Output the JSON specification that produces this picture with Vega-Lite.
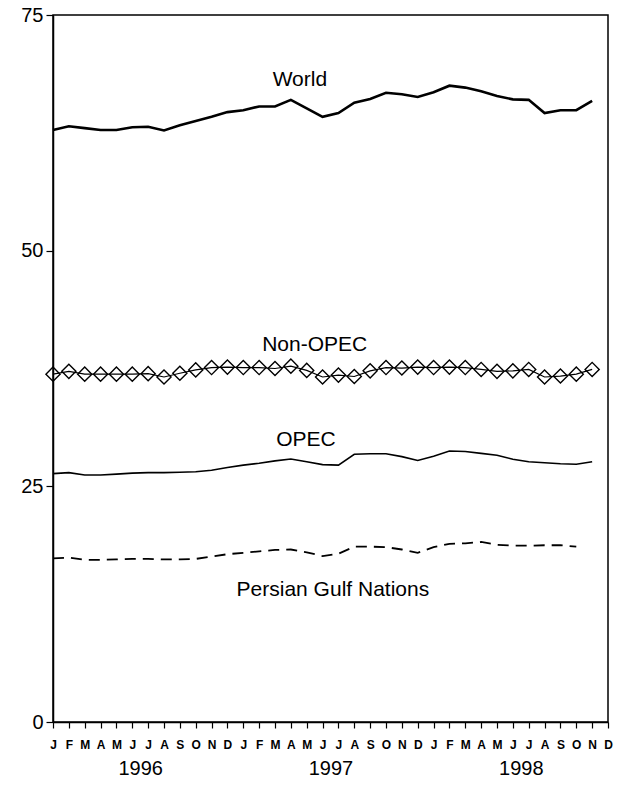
{
  "$schema": "https://vega.github.io/schema/vega-lite/v6.json",
  "width": 555,
  "height": 707,
  "autosize": {"type": "none"},
  "padding": {"left": 53, "top": 15, "right": 10, "bottom": 67},
  "background": "white",
  "config": {
    "view": {"stroke": "black", "strokeWidth": 1.5},
    "font": "Liberation Sans",
    "axis": {"domainColor": "black", "domainWidth": 1.5, "tickColor": "black", "tickWidth": 1.2, "labelColor": "black", "grid": false, "labelFont": "Liberation Sans"},
    "axisY": {"tickSize": 7, "labelPadding": 3, "labelFontSize": 20}
  },
  "datasets": {
    "world": [
      {"t": 0, "v": 62.8}, {"t": 1, "v": 63.2}, {"t": 2, "v": 63.0}, {"t": 3, "v": 62.8}, {"t": 4, "v": 62.8}, {"t": 5, "v": 63.1},
      {"t": 6, "v": 63.15}, {"t": 7, "v": 62.75}, {"t": 8, "v": 63.3}, {"t": 9, "v": 63.75}, {"t": 10, "v": 64.2}, {"t": 11, "v": 64.7},
      {"t": 12, "v": 64.9}, {"t": 13, "v": 65.3}, {"t": 14, "v": 65.3}, {"t": 15, "v": 66.0}, {"t": 16, "v": 65.1}, {"t": 17, "v": 64.2},
      {"t": 18, "v": 64.6}, {"t": 19, "v": 65.7}, {"t": 20, "v": 66.1}, {"t": 21, "v": 66.75}, {"t": 22, "v": 66.6}, {"t": 23, "v": 66.3},
      {"t": 24, "v": 66.8}, {"t": 25, "v": 67.5}, {"t": 26, "v": 67.3}, {"t": 27, "v": 66.9}, {"t": 28, "v": 66.4}, {"t": 29, "v": 66.05},
      {"t": 30, "v": 66.0}, {"t": 31, "v": 64.6}, {"t": 32, "v": 64.9}, {"t": 33, "v": 64.9}, {"t": 34, "v": 65.9}
    ],
    "nonopec": [
      {"t": 0, "v": 36.9}, {"t": 1, "v": 37.2}, {"t": 2, "v": 36.9}, {"t": 3, "v": 36.9}, {"t": 4, "v": 36.9}, {"t": 5, "v": 36.9},
      {"t": 6, "v": 36.95}, {"t": 7, "v": 36.6}, {"t": 8, "v": 37.0}, {"t": 9, "v": 37.35}, {"t": 10, "v": 37.6}, {"t": 11, "v": 37.65},
      {"t": 12, "v": 37.6}, {"t": 13, "v": 37.6}, {"t": 14, "v": 37.5}, {"t": 15, "v": 37.75}, {"t": 16, "v": 37.3}, {"t": 17, "v": 36.6},
      {"t": 18, "v": 36.8}, {"t": 19, "v": 36.65}, {"t": 20, "v": 37.25}, {"t": 21, "v": 37.6}, {"t": 22, "v": 37.55}, {"t": 23, "v": 37.65},
      {"t": 24, "v": 37.6}, {"t": 25, "v": 37.65}, {"t": 26, "v": 37.6}, {"t": 27, "v": 37.4}, {"t": 28, "v": 37.2}, {"t": 29, "v": 37.25},
      {"t": 30, "v": 37.4}, {"t": 31, "v": 36.6}, {"t": 32, "v": 36.7}, {"t": 33, "v": 36.9}, {"t": 34, "v": 37.4}
    ],
    "opec": [
      {"t": 0, "v": 26.35}, {"t": 1, "v": 26.45}, {"t": 2, "v": 26.2}, {"t": 3, "v": 26.2}, {"t": 4, "v": 26.3}, {"t": 5, "v": 26.4},
      {"t": 6, "v": 26.45}, {"t": 7, "v": 26.45}, {"t": 8, "v": 26.5}, {"t": 9, "v": 26.55}, {"t": 10, "v": 26.7}, {"t": 11, "v": 27.0},
      {"t": 12, "v": 27.25}, {"t": 13, "v": 27.45}, {"t": 14, "v": 27.7}, {"t": 15, "v": 27.9}, {"t": 16, "v": 27.6}, {"t": 17, "v": 27.3},
      {"t": 18, "v": 27.25}, {"t": 19, "v": 28.4}, {"t": 20, "v": 28.46}, {"t": 21, "v": 28.46}, {"t": 22, "v": 28.15}, {"t": 23, "v": 27.75},
      {"t": 24, "v": 28.2}, {"t": 25, "v": 28.75}, {"t": 26, "v": 28.7}, {"t": 27, "v": 28.5}, {"t": 28, "v": 28.3}, {"t": 29, "v": 27.87},
      {"t": 30, "v": 27.6}, {"t": 31, "v": 27.5}, {"t": 32, "v": 27.4}, {"t": 33, "v": 27.34}, {"t": 34, "v": 27.6}
    ],
    "gulf": [
      {"t": 0, "v": 17.35}, {"t": 1, "v": 17.45}, {"t": 2, "v": 17.2}, {"t": 3, "v": 17.2}, {"t": 4, "v": 17.25}, {"t": 5, "v": 17.3},
      {"t": 6, "v": 17.3}, {"t": 7, "v": 17.25}, {"t": 8, "v": 17.25}, {"t": 9, "v": 17.3}, {"t": 10, "v": 17.55}, {"t": 11, "v": 17.8},
      {"t": 12, "v": 17.95}, {"t": 13, "v": 18.1}, {"t": 14, "v": 18.25}, {"t": 15, "v": 18.3}, {"t": 16, "v": 18.0}, {"t": 17, "v": 17.6},
      {"t": 18, "v": 17.85}, {"t": 19, "v": 18.6}, {"t": 20, "v": 18.6}, {"t": 21, "v": 18.55}, {"t": 22, "v": 18.3}, {"t": 23, "v": 17.95},
      {"t": 24, "v": 18.55}, {"t": 25, "v": 18.9}, {"t": 26, "v": 18.95}, {"t": 27, "v": 19.1}, {"t": 28, "v": 18.8}, {"t": 29, "v": 18.7},
      {"t": 30, "v": 18.7}, {"t": 31, "v": 18.75}, {"t": 32, "v": 18.75}, {"t": 33, "v": 18.6}
    ],
    "labels": [
      {"t": 15.57, "v": 68.1, "label": "World"},
      {"t": 16.5, "v": 40.0, "label": "Non-OPEC"},
      {"t": 15.95, "v": 29.9, "label": "OPEC"},
      {"t": 17.65, "v": 14.0, "label": "Persian Gulf Nations"}
    ]
  },
  "layer": [
    {
      "data": {"name": "world"},
      "mark": {"type": "line", "color": "black", "strokeWidth": 2.6},
      "encoding": {
        "x": {"field": "t", "type": "quantitative", "scale": {"domain": [0, 35], "nice": false, "zero": false},
          "axis": {"orient": "bottom", "values": [0,1,2,3,4,5,6,7,8,9,10,11,12,13,14,15,16,17,18,19,20,21,22,23,24,25,26,27,28,29,30,31,32,33,34,35],
            "labelExpr": "['J','F','M','A','M','J','J','A','S','O','N','D'][datum.value % 12]",
            "title": null, "tickSize": 6, "labelPadding": 11, "labelFontSize": 12, "labelFontWeight": "bold",
            "labelOverlap": false, "labelFlush": false, "labelAngle": 0}},
        "y": {"field": "v", "type": "quantitative", "scale": {"domain": [0, 75], "nice": false},
          "axis": {"orient": "left", "values": [0, 25, 50, 75], "title": null}}
      }
    },
    {
      "data": {"name": "nonopec"},
      "mark": {"type": "line", "color": "black", "strokeWidth": 1.2},
      "encoding": {
        "x": {"field": "t", "type": "quantitative", "scale": {"domain": [0, 35], "nice": false, "zero": false}, "axis": null},
        "y": {"field": "v", "type": "quantitative", "scale": {"domain": [0, 75], "nice": false},
          "axis": {"orient": "left", "values": [0, 25, 50, 75], "title": null}}
      }
    },
    {
      "data": {"name": "nonopec"},
      "mark": {"type": "point", "shape": "diamond", "filled": false, "color": "black", "size": 200, "strokeWidth": 1.4, "opacity": 1},
      "encoding": {
        "x": {"field": "t", "type": "quantitative", "scale": {"domain": [0, 35], "nice": false, "zero": false}, "axis": null},
        "y": {"field": "v", "type": "quantitative", "scale": {"domain": [0, 75], "nice": false},
          "axis": {"orient": "left", "values": [0, 25, 50, 75], "title": null}}
      }
    },
    {
      "data": {"name": "opec"},
      "mark": {"type": "line", "color": "black", "strokeWidth": 1.6},
      "encoding": {
        "x": {"field": "t", "type": "quantitative", "scale": {"domain": [0, 35], "nice": false, "zero": false}, "axis": null},
        "y": {"field": "v", "type": "quantitative", "scale": {"domain": [0, 75], "nice": false},
          "axis": {"orient": "left", "values": [0, 25, 50, 75], "title": null}}
      }
    },
    {
      "data": {"name": "gulf"},
      "mark": {"type": "line", "color": "black", "strokeWidth": 1.8, "strokeDash": [11, 7]},
      "encoding": {
        "x": {"field": "t", "type": "quantitative", "scale": {"domain": [0, 35], "nice": false, "zero": false}, "axis": null},
        "y": {"field": "v", "type": "quantitative", "scale": {"domain": [0, 75], "nice": false},
          "axis": {"orient": "left", "values": [0, 25, 50, 75], "title": null}}
      }
    },
    {
      "data": {"name": "labels"},
      "mark": {"type": "text", "color": "black", "fontSize": 21, "font": "Liberation Sans", "baseline": "middle", "align": "center"},
      "encoding": {
        "x": {"field": "t", "type": "quantitative", "scale": {"domain": [0, 35], "nice": false, "zero": false},
          "axis": {"orient": "bottom", "values": [5.5, 17.5, 29.5],
            "labelExpr": "datum.value == 5.5 ? '1996' : datum.value == 17.5 ? '1997' : '1998'",
            "title": null, "domain": false, "ticks": false, "labelPadding": 36, "labelFontSize": 20,
            "labelOverlap": false, "labelFlush": false, "labelAngle": 0}},
        "y": {"field": "v", "type": "quantitative", "scale": {"domain": [0, 75], "nice": false},
          "axis": {"orient": "left", "values": [0, 25, 50, 75], "title": null}},
        "text": {"field": "label", "type": "nominal"}
      }
    }
  ],
  "resolve": {"axis": {"x": "independent", "y": "shared"}}
}
